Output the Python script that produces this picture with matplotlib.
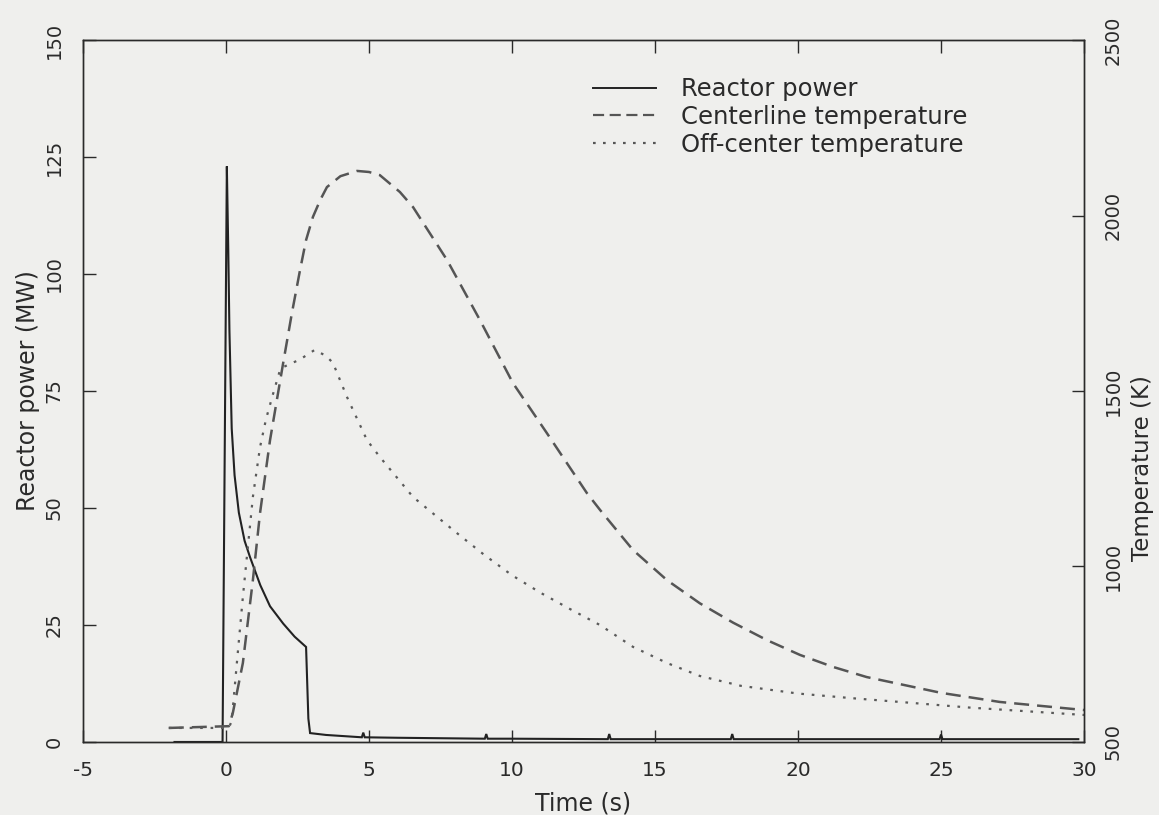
import numpy as np
import matplotlib
matplotlib.use("Agg")
import matplotlib.pyplot as plt
from matplotlib.lines import Line2D

plt.rcParams["font.family"] = ["DejaVu Sans"]
plt.rcParams["axes.unicode_minus"] = False

# Reactor power transient (MW)
t_power = [-1.8, -0.12, 0.03, 0.08, 0.12, 0.2, 0.3, 0.45, 0.65, 0.84, 1.2, 1.54,
           2.0, 2.4, 2.8, 2.88, 2.94, 3.5, 4.75, 4.8, 4.85, 6.0, 9.05, 9.1, 9.15,
           10.0, 13.35, 13.4, 13.45, 15.0, 17.65, 17.7, 17.75, 20.0, 24.95, 25.0,
           25.05, 29.8]
power = [0.0, 0.0, 123.0, 105.0, 88.0, 67.0, 57.0, 49.0, 43.0, 39.5, 33.5, 29.0,
         25.3, 22.5, 20.3, 5.0, 1.9, 1.5, 1.0, 2.0, 1.0, 0.9, 0.7, 1.7, 0.7,
         0.7, 0.6, 1.7, 0.6, 0.6, 0.6, 1.7, 0.6, 0.6, 0.6, 1.6, 0.6, 0.6]

# Fuel centerline temperature (K)
t_center = [-2.0, 0.1, 0.24, 0.59, 0.94, 1.19, 1.54, 2.0, 2.3, 2.59, 2.8, 3.04,
            3.3, 3.53, 4.0, 4.58, 5.0, 5.38, 6.08, 6.54, 7.73, 8.88, 10.03, 11.22,
            12.62, 13.08, 14.23, 15.42, 16.57, 17.73, 18.92, 20.07, 21.22, 22.4,
            25.0, 27.06, 30.0]
temp_center = [540, 545, 583, 725, 961, 1152, 1360, 1580, 1720, 1845, 1930, 1996,
               2045, 2081, 2112, 2127, 2124, 2115, 2067, 2024, 1873, 1702, 1523,
               1380, 1209, 1161, 1047, 961, 895, 840, 790, 748, 714, 685, 640, 614,
               591]

# Off-center fuel temperature (K)
t_off = [-2.0, 0.1, 0.2, 0.38, 0.59, 0.94, 1.19, 1.4, 1.64, 1.89, 2.0, 2.59, 3.1,
         3.5, 3.74, 4.23, 4.93, 5.38, 6.54, 8.0, 9.0, 10.0, 11.0, 12.0, 13.08,
         14.23, 15.42, 16.57, 18.0, 20.0, 22.0, 23.57, 26.0, 30.0]
temp_off = [540, 540, 560, 725, 913, 1198, 1340, 1420, 1490, 1560, 1568, 1590,
            1617, 1600, 1580, 1483, 1360, 1312, 1198, 1100, 1035, 975, 925, 880,
            833, 771, 725, 688, 660, 638, 624, 614, 598, 577]

bg = "#efefed"
ink = "#2a2a2a"

fig = plt.figure(figsize=(11.59, 8.15), dpi=100, facecolor=bg)
ax = fig.add_axes([0.0716, 0.0896, 0.8637, 0.8613], facecolor=bg)
ax2 = ax.twinx()

ax.plot(t_power, power, color="#222222", lw=1.5, solid_joinstyle="miter")
ax2.plot(t_center, temp_center, color="#555555", lw=1.8, dashes=(6, 3.2))
ax2.plot(t_off, temp_off, color="#5a5a5a", lw=1.6, dashes=(1.2, 3.5))

ax.set_xlim(-5, 30)
ax.set_ylim(0, 150)
ax2.set_ylim(500, 2500)
ax.set_xticks(np.arange(-5, 31, 5))
ax.set_yticks(np.arange(0, 151, 25))
ax2.set_yticks(np.arange(500, 2501, 500))

for a in (ax, ax2):
    for s in a.spines.values():
        s.set_color(ink)
        s.set_linewidth(1.0)

ax.tick_params(axis="x", direction="in", top=True, length=9, width=1.0,
               colors=ink, labelsize=14.5, pad=14)
ax.tick_params(axis="y", direction="in", length=9, width=1.0, colors=ink,
               labelsize=14, labelrotation=90, pad=14)
ax2.tick_params(axis="y", direction="in", length=9, width=1.0, colors=ink,
                labelsize=14, labelrotation=90, pad=14)
for lbl in ax.get_yticklabels() + ax2.get_yticklabels():
    lbl.set_va("center")

ax.set_xlabel("Time (s)", fontsize=17, color=ink)
ax.xaxis.set_label_coords(0.5, -0.07)
ax.set_ylabel("Reactor power (MW)", fontsize=17, color=ink)
ax.yaxis.set_label_coords(-0.043, 0.5)
ax2.set_ylabel("Temperature (K)", fontsize=16.5, color=ink)
ax2.yaxis.set_label_coords(1.047, 0.39)

handles = [
    Line2D([], [], color="#222222", lw=1.4),
    Line2D([], [], color="#555555", lw=1.6, dashes=(5, 2.5)),
    Line2D([], [], color="#555555", lw=1.6, dashes=(1.2, 3.3)),
]
labels = ["Reactor power", "Centerline temperature", "Off-center temperature"]
leg = ax2.legend(handles, labels, loc="upper left", bbox_to_anchor=(0.5095, 0.947),
                 frameon=False, fontsize=17.5, handlelength=2.6, handletextpad=1.0,
                 labelspacing=0.15, borderpad=0, borderaxespad=0)
for txt in leg.get_texts():
    txt.set_color(ink)

fig.savefig("out.png", dpi=100, facecolor=bg)
